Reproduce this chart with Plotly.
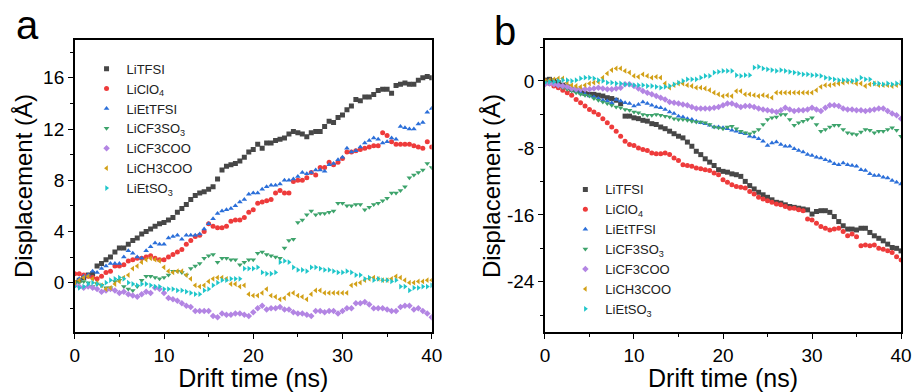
import plotly.graph_objects as go

t = [i * 0.5 for i in range(81)]

names = ["LiTFSI", "LiClO<sub>4</sub>", "LiEtTFSI", "LiCF3SO<sub>3</sub>", "LiCF3COO", "LiCH3COO", "LiEtSO<sub>3</sub>"]
colors = ["#474747", "#EE3B3B", "#2B6FD9", "#3DA36B", "#B385E3", "#D2A017", "#1FC6CA"]
symbols = ["square", "circle", "triangle-up", "triangle-down", "diamond", "triangle-left", "triangle-right"]

a_tickvals = [0, 4, 8, 12, 16]
a_ticktext = ["0", "4", "8", "12", "16"]
b_tickvals = [0, -8, -16, -24]
b_ticktext = ["0", "-8", "-16", "-24"]

# Panel a (t = 0, 0.5, ..., 40 ns)
a_TFSI = [0, 0.2, 0.4, 0.6, 0.7, 1.3, 1.5, 1.8, 2.0, 2.4,
          2.7, 2.7, 3.0, 3.3, 3.5, 3.8, 4.0, 4.2, 4.4, 4.6,
          4.7, 4.9, 5.1, 5.5, 5.8, 6.1, 6.5, 6.8, 7.0, 7.1,
          7.3, 7.5, 8.1, 8.8, 9.1, 9.2, 9.3, 9.5, 9.8, 10.2,
          10.4, 10.8, 10.5, 10.9, 10.9, 11.1, 11.2, 11.3, 11.6, 11.8,
          11.7, 11.6, 11.4, 11.7, 11.8, 11.8, 12.2, 12.6, 12.5, 12.9,
          13.1, 13.5, 13.8, 14.3, 14.2, 14.5, 14.5, 14.7, 15.0, 15.1,
          15.1, 14.8, 15.4, 15.5, 15.6, 15.5, 15.5, 15.8, 16.0, 16.1,
          16.0]
a_ClO4 = [0.7, 0.7, 0.6, 0.5, 0.4, 0.3, 0.5, 0.8, 0.9, 1.3,
          1.3, 1.4, 1.7, 1.8, 1.9, 1.9, 2.0, 2.1, 1.9, 1.8,
          1.8, 2.0, 2.2, 2.4, 2.6, 3.0, 3.3, 3.6, 3.7, 4.0,
          4.6, 4.4, 4.3, 4.3, 4.4, 4.8, 4.9, 4.9, 5.1, 5.5,
          5.7, 6.2, 6.3, 6.4, 6.5, 7.0, 7.2, 7.0, 7.0, 7.9,
          8.0, 8.0, 8.2, 8.6, 8.4, 9.0, 9.0, 9.4, 9.2, 9.4,
          9.7, 10.2, 10.2, 10.3, 10.4, 10.5, 10.6, 10.7, 10.7, 11.7,
          11.5, 11.0, 10.8, 10.8, 10.8, 10.8, 10.7, 10.6, 10.5, 11.0,
          10.6]
a_EtTFSI = [0, 0.3, 0.5, 0.6, 0.9, 0.8, 1.1, 1.3, 1.5, 1.5,
            1.5, 2.0, 2.5, 2.3, 2.0, 1.9, 2.5, 2.8, 3.1, 3.0,
            3.0, 3.5, 3.6, 3.7, 3.4, 3.7, 3.7, 3.7, 3.8, 4.2,
            4.6, 5.0, 5.4, 5.6, 5.7, 5.8, 6.0, 6.3, 6.5, 6.9,
            7.0, 7.0, 7.3, 7.5, 7.6, 7.6, 7.7, 8.0, 8.0, 8.1,
            8.3, 8.6, 8.5, 8.6, 8.8, 8.8, 8.7, 9.2, 9.3, 9.6,
            9.8, 10.5, 10.2, 10.3, 10.6, 10.9, 11.1, 11.3, 11.2, 10.9,
            11.0, 11.3, 11.2, 12.2, 12.1, 12.0, 12.0, 12.4, 12.5, 13.3,
            13.6]
a_CF3SO3 = [0, 0, 0.1, 0, -0.3, -0.1, -0.2, -0.4, -0.4, 0.1,
            0.2, -0.3, -0.5, -0.6, -0.3, 0.2, 0.5, 0.5, 0.4, 0.3,
            0.4, 0.6, 0.9, 0.9, 0.8, 0.6, 1.1, 1.3, 1.5, 1.9,
            2.1, 2.2, 1.6, 1.9, 1.9, 1.8, 1.8, 1.4, 1.6, 1.8,
            1.8, 2.3, 2.4, 2.2, 2.1, 2.0, 1.9, 2.7, 3.3, 3.4,
            4.7, 4.9, 5.3, 5.6, 5.3, 5.4, 5.4, 5.5, 5.6, 6.2,
            6.2, 6.0, 6.0, 6.1, 6.1, 5.7, 5.9, 6.1, 6.2, 6.4,
            6.6, 7.0, 7.0, 7.2, 7.5, 8.2, 8.4, 8.6, 8.8, 9.3,
            9.0]
a_CF3COO = [-0.2, -0.3, -0.4, -0.3, -0.4, -0.5, -0.7, -0.6, -0.5, -0.6,
            -0.8, -0.7, -0.9, -1.0, -1.1, -0.9, -0.7, -0.8, -0.4, -0.5,
            -0.8, -1.2, -1.3, -1.4, -1.6, -1.8, -1.9, -2.2, -2.2, -2.2,
            -2.2, -2.6, -2.7, -2.4, -2.5, -2.5, -2.4, -2.4, -2.5, -2.6,
            -2.3, -2.0, -1.8, -2.1, -2.0, -2.0, -1.9, -2.1, -2.1, -2.3,
            -2.4, -2.4, -2.5, -2.6, -2.2, -2.2, -2.3, -2.2, -2.2, -2.4,
            -2.2, -2.0, -2.0, -1.6, -1.6, -1.5, -1.7, -2.0, -2.0, -2.0,
            -2.1, -2.2, -2.2, -1.9, -1.8, -1.8, -2.1, -2.0, -2.2, -2.4,
            -2.7]
a_CH3COO = [0, 0.2, 0.4, 0.5, 0.3, 0.0, -0.2, -0.5, -0.4, -0.1,
            0.1, 0.4, 0.6, 1.1, 1.3, 1.6, 1.8, 1.9, 1.8, 1.7,
            1.2, 0.9, 0.8, 0.9, 0.9, 0.6, 0.3, -0.2, -0.3, -0.2,
            0.1, 0.3, 0.4, 0.4, 0.3, -0.1, -0.1, -0.3, -0.2, -0.9,
            -1.0, -1.0, -0.8, -0.5, -1.0, -1.1, -1.3, -1.2, -0.9, -0.8,
            -1.0, -1.1, -1.3, -0.9, -0.6, -0.6, -0.8, -0.8, -0.8, -0.8,
            -0.8, -0.8, -0.2, -0.1, 0.0, 0.2, 0.3, 0.4, 0.3, 0.2,
            0.2, 0.3, 0.5, 0.4, 0.2, 0.0, 0.0, 0.1, 0.1, 0.2,
            0.2]
a_EtSO3 = [-0.3, -0.4, -0.3, -0.1, 0.0, -0.1, -0.2, 0.0, 0.2, 0.3,
           0.4, 0.3, 0.0, -0.1, -0.2, -0.1, -0.1, -0.2, -0.3, -0.3,
           -0.5, -0.5, -0.5, -0.6, -0.6, -0.7, -0.8, -0.9, -0.9, -0.6,
           -0.5, -0.2, 0.0, 0.2, 0.2, 0.3, 0.3, 0.3, 1.1, 1.1,
           1.1, 1.2, 0.8, 0.7, 0.7, 0.8, 1.6, 1.7, 1.6, 1.2,
           1.0, 1.0, 0.9, 1.2, 1.2, 1.1, 1.0, 1.0, 0.9, 0.8,
           0.8, 0.9, 0.8, 0.6, 0.6, 0.3, 0.4, 0.2, 0.3, 0.2,
           0.2, 0.1, 0.2, -0.3, -0.3, -0.6, -0.4, -0.4, -0.3, -0.3,
           -0.2]

# Panel b (t = 0, 0.5, ..., 40 ns)
b_TFSI = [0.1, 0.2, 0, -0.2, -0.5, -0.7, -1.0, -1.1, -1.3, -1.5,
          -1.6, -1.6, -1.7, -1.8, -2.0, -2.1, -2.3, -2.7, -4.2, -4.2,
          -4.4, -4.5, -4.7, -4.8, -5.1, -5.2, -5.5, -5.7, -6.0, -6.3,
          -6.6, -6.8, -7.3, -7.8, -8.4, -8.8, -9.3, -9.7, -10.1, -10.6,
          -10.8, -10.9, -11.1, -11.2, -11.4, -12.0, -12.5, -12.9, -13.3, -13.6,
          -13.9, -14.2, -14.5, -14.6, -14.8, -15.0, -15.1, -15.2, -15.3, -15.4,
          -15.9, -15.6, -15.5, -15.5, -15.7, -16.2, -16.8, -17.3, -17.7, -17.7,
          -17.8, -17.6, -17.6, -18.1, -18.5, -18.8, -19.1, -19.5, -19.9, -20.0,
          -20.3]
b_ClO4 = [0, -0.3, -0.6, -0.8, -1.1, -1.4, -1.7, -2.2, -2.6, -3.0,
          -3.4, -3.7, -4.0, -4.5, -5.0, -5.5, -6.0, -6.6, -7.2, -7.6,
          -7.7, -8.0, -8.2, -8.3, -8.6, -8.7, -8.7, -8.6, -8.8, -9.2,
          -9.5, -10.0, -10.1, -10.2, -10.4, -10.5, -10.6, -10.7, -11.0, -11.2,
          -11.8, -12.1, -12.4, -12.6, -12.7, -12.8, -13.2, -13.5, -13.9, -14.1,
          -14.3, -14.5, -14.7, -14.8, -15.0, -15.2, -15.2, -15.4, -15.5, -16.5,
          -16.6, -17.0, -17.4, -17.6, -17.8, -17.7, -17.6, -18.0, -18.5, -18.3,
          -18.6, -19.7, -19.6, -19.7, -19.6, -20.0, -20.1, -20.3, -20.5, -21.0,
          -21.4]
b_EtTFSI = [0, -0.2, -0.3, -0.5, -0.6, -0.8, -1.0, -1.2, -1.4, -1.6,
            -1.8, -1.9, -2.1, -2.3, -2.4, -2.6, -2.2, -2.4, -2.6, -2.7,
            -3.0, -2.8, -2.5, -2.7, -2.9, -3.1, -3.2, -3.4, -3.7, -3.9,
            -4.2, -4.3, -4.5, -4.6, -4.8, -5.0, -5.1, -5.3, -5.5, -5.5,
            -5.6, -5.7, -5.9, -6.0, -6.2, -6.3, -6.6, -6.7, -6.9, -7.2,
            -7.7, -7.4, -7.3, -7.6, -7.8, -7.8, -8.1, -8.3, -8.5, -8.8,
            -8.9, -9.1, -9.2, -9.4, -9.6, -9.9, -10.0, -9.8, -10.0, -10.1,
            -10.2, -10.6, -10.7, -11.1, -11.3, -11.3, -11.5, -11.6, -11.9, -12.1,
            -12.3]
b_CF3SO3 = [0, -0.2, -0.4, -0.6, -0.8, -1.0, -1.2, -1.4, -1.6, -1.7,
            -1.8, -2.1, -2.3, -2.5, -2.7, -2.9, -3.1, -3.2, -3.4, -3.5,
            -3.7, -3.8, -4.0, -4.1, -4.1, -4.0, -4.1, -4.2, -4.3, -4.5,
            -4.6, -4.6, -4.7, -4.8, -4.9, -4.9, -5.0, -5.2, -5.5, -5.6,
            -5.7, -5.5, -5.4, -5.7, -6.0, -6.2, -6.3, -6.1, -5.8, -5.2,
            -4.6, -4.4, -4.3, -4.0, -4.0, -4.6, -5.3, -5.0, -4.8, -4.6,
            -4.4, -5.2, -6.0, -5.8, -5.5, -5.3, -5.3, -5.8, -6.2, -6.3,
            -6.4, -6.1, -5.8, -5.9, -6.2, -6.0, -6.0, -5.8, -5.6, -5.9,
            -6.6]
b_CF3COO = [-0.4, -0.3, -0.4, -0.5, -0.6, -0.7, -0.9, -1.0, -1.0, -1.0,
            -1.0, -0.9, -0.8, -0.9, -1.0, -1.0, -0.9, -0.8, -0.4, -0.4,
            -0.6, -0.9, -1.2, -1.4, -1.6, -1.8, -2.0, -2.2, -2.5, -2.6,
            -2.7, -2.8, -2.9, -3.1, -3.3, -3.3, -3.3, -3.3, -3.2, -3.1,
            -2.9, -2.7, -2.7, -2.9, -3.1, -3.0, -3.0, -3.1, -3.3, -3.4,
            -3.5, -3.6, -3.7, -3.5, -3.2, -3.4, -3.6, -3.5, -3.5, -3.4,
            -3.2, -3.4, -3.6, -3.2, -2.9, -2.9, -3.0, -3.3, -3.4, -3.4,
            -3.5, -3.5, -3.6, -3.5, -3.4, -3.3, -3.3, -3.6, -3.9, -4.1,
            -4.5]
b_CH3COO = [0, 0.1, 0.2, 0.3, 0.3, -0.2, -0.5, -0.6, -0.7, -0.5,
            -0.3, -0.2, -0.1, 0.4, 0.9, 1.3, 1.5, 1.5, 1.2, 1.0,
            0.6, 0.5, 0.8, 0.6, 0.4, 0.5, 0.4, -0.3, -0.8, -0.5,
            -0.3, -0.3, -0.5, -0.6, -0.8, -0.8, -0.9, -1.1, -1.4, -1.6,
            -1.8, -1.7, -1.8, -1.2, -1.2, -1.6, -1.6, -1.7, -1.8, -1.7,
            -1.8, -2.0, -1.4, -1.4, -1.4, -1.4, -1.4, -1.4, -1.4, -1.4,
            -1.4, -1.1, -0.7, -0.5, -0.5, -0.4, -0.3, -0.2, -0.1, -0.1,
            -0.3, -0.3, -0.6, -0.4, -0.3, -0.5, -0.5, -0.5, -0.6, -0.5,
            -0.4]
b_EtSO3 = [-0.2, -0.1, -0.1, 0.0, 0.1, 0.1, 0.0, 0.1, 0.3, 0.4,
           0.4, 0.3, 0.1, 0.0, -0.2, -0.2, -0.3, -0.3, -0.4, -0.4,
           -0.5, -0.5, -0.5, -0.6, -0.6, -0.7, -0.8, -0.7, -0.6, -0.4,
           -0.2, 0.0, 0.2, 0.2, 0.2, 0.4, 0.6, 0.6, 1.0, 1.1,
           1.2, 1.2, 1.2, 0.7, 0.6, 0.7, 0.7, 1.6, 1.7, 1.5,
           1.4, 1.3, 1.2, 1.3, 1.2, 1.1, 1.0, 0.9, 0.8, 0.8,
           0.7, 0.7, 0.6, 0.4, 0.3, 0.2, 0.1, 0.1, 0.1, 0.0,
           0.1, 0.4, 0.2, 0.2, -0.3, -0.3, -0.4, -0.3, -0.4, -0.3,
           -0.2]

series_a = [a_TFSI, a_ClO4, a_EtTFSI, a_CF3SO3, a_CF3COO, a_CH3COO, a_EtSO3]
series_b = [b_TFSI, b_ClO4, b_EtTFSI, b_CF3SO3, b_CF3COO, b_CH3COO, b_EtSO3]
for s in series_a + series_b:
    assert len(s) == len(t), len(s)

FONT = "Arial, Liberation Sans, sans-serif"

fig = go.Figure()
for i in range(7):
    fig.add_trace(go.Scatter(x=t, y=series_a[i], mode="markers", name=names[i],
                             marker=dict(symbol=symbols[i], color=colors[i], size=5, line=dict(width=0)),
                             xaxis="x", yaxis="y", legend="legend"))
for i in range(7):
    fig.add_trace(go.Scatter(x=t, y=series_b[i], mode="markers", name=names[i],
                             marker=dict(symbol=symbols[i], color=colors[i], size=5, line=dict(width=0)),
                             xaxis="x2", yaxis="y2", legend="legend2"))

def xax(domain, anchor):
    return dict(domain=domain, anchor=anchor, range=[0, 40], dtick=10, tick0=0,
                showline=True, linecolor="black", linewidth=1.5, mirror=True,
                ticks="outside", ticklen=5, tickwidth=1.2, tickcolor="black",
                minor=dict(dtick=5, ticks="outside", ticklen=3, tickwidth=1.2, tickcolor="black"),
                showgrid=False, zeroline=False,
                tickfont=dict(family=FONT, size=19, color="black"),
                title=dict(text="Drift time (ns)", font=dict(family=FONT, size=25, color="black"), standoff=3))

def yax(domain, anchor, rng, dt, tv, tt, so):
    return dict(domain=domain, anchor=anchor, range=rng, tickmode="array", tickvals=tv, ticktext=tt,
                showline=True, linecolor="black", linewidth=1.5, mirror=True,
                ticks="outside", ticklen=5, tickwidth=1.2, tickcolor="black",
                minor=dict(dtick=dt / 2, tick0=0, ticks="outside", ticklen=3, tickwidth=1.2, tickcolor="black"),
                showgrid=False, zeroline=False,
                tickfont=dict(family=FONT, size=19, color="black"),
                title=dict(text="Displacement (Å)", font=dict(family=FONT, size=24, color="black"), standoff=so))

legfont = dict(family=FONT, size=13, color="#222222")
fig.update_layout(
    width=922, height=392,
    margin=dict(l=0, r=0, t=0, b=0),
    paper_bgcolor="white", plot_bgcolor="white",
    showlegend=True,
    xaxis=xax([0.077, 0.471], "y"),
    yaxis=yax([0.153, 0.898], "x", [-3.85, 18.95], 4, a_tickvals, a_ticktext, 4),
    xaxis2=xax([0.596, 0.989], "y2"),
    yaxis2=yax([0.153, 0.898], "x2", [-30.0, 4.9], 8, b_tickvals, b_ticktext, 0),
    legend=dict(x=0.090, y=0.863, xanchor="left", yanchor="top", bgcolor="rgba(0,0,0,0)",
                font=legfont, itemwidth=30, tracegroupgap=0),
    legend2=dict(x=0.6185, y=0.555, xanchor="left", yanchor="top", bgcolor="rgba(0,0,0,0)",
                 font=legfont, itemwidth=30, tracegroupgap=0),
    annotations=[
        dict(text="a", x=0.0104, y=0.936, xref="paper", yref="paper", xanchor="left", yanchor="middle",
             showarrow=False, font=dict(family=FONT, size=40, color="black")),
        dict(text="b", x=0.537, y=0.921, xref="paper", yref="paper", xanchor="left", yanchor="middle",
             showarrow=False, font=dict(family=FONT, size=40, color="black")),
    ],
)

fig.write_html("out.html")
